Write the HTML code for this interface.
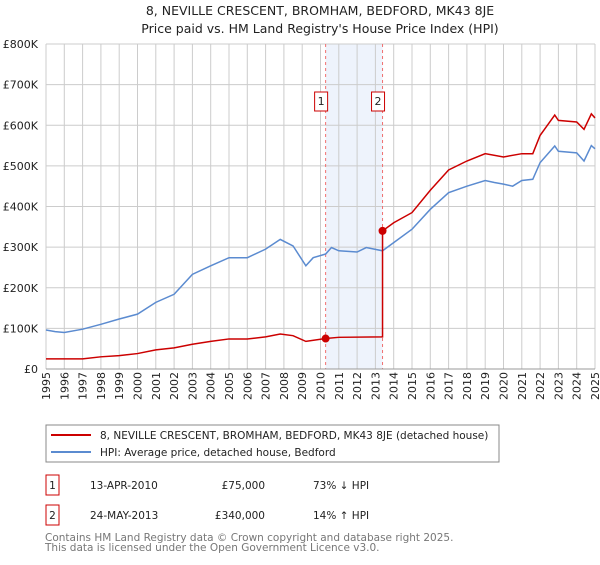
<!DOCTYPE html>
<html><head><meta charset="utf-8"><style>
body{margin:0;background:#fff;font-family:"Liberation Sans","DejaVu Sans",sans-serif;}
svg text{font-family:"DejaVu Sans","Liberation Sans",sans-serif;}
</style></head><body>
<svg id="c" width="600" height="560" xmlns="http://www.w3.org/2000/svg">
<text x="320" y="15" text-anchor="middle" font-size="12.5" fill="#222">8, NEVILLE CRESCENT, BROMHAM, BEDFORD, MK43 8JE</text>
<text x="320" y="33" text-anchor="middle" font-size="12.5" fill="#222">Price paid vs. HM Land Registry's House Price Index (HPI)</text>
<g id="grid"></g><g id="series"></g><g id="axes"></g>
<rect x="46" y="425" width="453" height="37" fill="#fff" stroke="#888"/>
<line x1="51" y1="435" x2="91" y2="435" stroke="#cc0000" stroke-width="2"/>
<text x="100" y="439" font-size="10.5" fill="#222">8, NEVILLE CRESCENT, BROMHAM, BEDFORD, MK43 8JE (detached house)</text>
<line x1="51" y1="452" x2="91" y2="452" stroke="#5b8bd0" stroke-width="2"/>
<text x="100" y="456" font-size="10.5" fill="#222">HPI: Average price, detached house, Bedford</text>
<g font-size="10.5" fill="#222">
<rect x="46" y="475" width="13" height="20" fill="#fff" stroke="#cc0000"/><text x="52.5" y="489" text-anchor="middle">1</text>
<text x="90" y="489">13-APR-2010</text><text x="265" y="489" text-anchor="end">£75,000</text><text x="313" y="489">73% ↓ HPI</text></g>
<g font-size="10.5" fill="#222">
<rect x="46" y="505" width="13" height="20" fill="#fff" stroke="#cc0000"/><text x="52.5" y="519" text-anchor="middle">2</text>
<text x="90" y="519">24-MAY-2013</text><text x="265" y="519" text-anchor="end">£340,000</text><text x="313" y="519">14% ↑ HPI</text></g>
<text x="45" y="541" font-size="10.5" fill="#777">Contains HM Land Registry data © Crown copyright and database right 2025.</text>
<text x="45" y="551" font-size="10.5" fill="#777">This data is licensed under the Open Government Licence v3.0.</text>
</svg>
<script>
const hpiYears=[1995,1995.5,1996,1997,1998,1999,2000,2001,2002,2003,2004,2005,2006,2007,2007.8,2008.5,2009.2,2009.6,2010.28,2010.6,2011,2012,2012.5,2013.39,2014,2015,2016,2017,2018,2019,2019.5,2020,2020.5,2021,2021.6,2022,2022.8,2023,2024,2024.4,2024.8,2025];
const hpiValues=[96,92,90,98,110,123,135,164,184,233,254,274,274,295,319,303,254,274,283,299,291,288,299,291,311,344,393,434,450,464,459,455,450,464,467,508,549,536,532,512,550,542];
const redYears=[1995,1997,1998,1999,2000,2001,2002,2003,2004,2005,2006,2007,2007.8,2008.5,2009.2,2010.28,2011,2013.39,2013.39,2014,2015,2016,2017,2018,2019,2020,2021,2021.6,2022,2022.8,2023,2024,2024.4,2024.8,2025];
const redValues=[25,25,30,33,38,47,52,61,68,74,74,79,86,82,68,75,78,79,340,360,385,440,490,512,530,522,530,530,575,625,612,608,590,628,618];
const saleYears=[2010.28,2013.39];
const saleValues=[75,340];
const yTicks=[0,100,200,300,400,500,600,700,800];
const yLabels=["£0","£100K","£200K","£300K","£400K","£500K","£600K","£700K","£800K"];
const X0=46,X1=595,Y0=369,Y1=44;
const x=v=>X0+(v-1995)/30*(X1-X0);
const y=v=>Y0-v/800*(Y0-Y1);
const NS="http://www.w3.org/2000/svg";
function mk(tag,parent,attrs){const e=document.createElementNS(NS,tag);for(const k in attrs)e.setAttribute(k,attrs[k]);parent.appendChild(e);return e;}
const grid=document.getElementById('grid'),axes=document.getElementById('axes'),ser=document.getElementById('series');
const sh=mk('rect',grid,{x:x(saleYears[0]),y:Y1,width:x(saleYears[1])-x(saleYears[0]),height:Y0-Y1,fill:'#eef3fc'});


for(let yr=1995;yr<=2025;yr++){
  const l=mk('line',grid,{x1:x(yr),x2:x(yr),y1:Y1,y2:Y0,stroke:'#ccc','stroke-width':1});
  
  
  const t=mk('text',axes,{transform:`translate(${x(yr)+4},400) rotate(-90)`,'font-size':11,fill:'#222'});
  
  
  t.textContent=yr;
}
yTicks.forEach((v,i)=>{
  const l=mk('line',grid,{x1:X0,x2:X1,y1:y(v),y2:y(v),stroke:'#ccc','stroke-width':1});
  
  
  const t=mk('text',axes,{x:38,y:y(v)+4,'text-anchor':'end','font-size':11,fill:'#222'});
  
  
  t.textContent=yLabels[i];
});
saleYears.forEach((s,i)=>{
  const l=mk('line',grid,{x1:x(s),x2:x(s),y1:Y1,y2:Y0,stroke:'#f07070','stroke-dasharray':'3,3','stroke-width':1});
  
  
  const g=mk('g',axes,{});
  
  
  mk('rect',g,{x:x(s)-11,y:92,width:13,height:19,fill:'#fff',stroke:'#cc0000'});
  const t=mk('text',g,{x:x(s)-4.5,y:105,'text-anchor':'middle','font-size':11,fill:'#222'});t.textContent=i+1;
});
mk('line',axes,{x1:X0,x2:X1,y1:Y0,y2:Y0,stroke:'#999'});
const hp=mk('polyline',ser,{points:hpiYears.map((v,i)=>x(v)+','+y(hpiValues[i])).join(' '),fill:'none',stroke:'#5b8bd0','stroke-width':1.5});


const rp=mk('polyline',ser,{points:redYears.map((v,i)=>x(v)+','+y(redValues[i])).join(' '),fill:'none',stroke:'#cc0000','stroke-width':1.5});


saleYears.forEach((s,i)=>{
  const c=mk('circle',ser,{cx:x(s),cy:y(saleValues[i]),r:4,fill:'#cc0000'});
  
  
});
</script>
</body></html>
